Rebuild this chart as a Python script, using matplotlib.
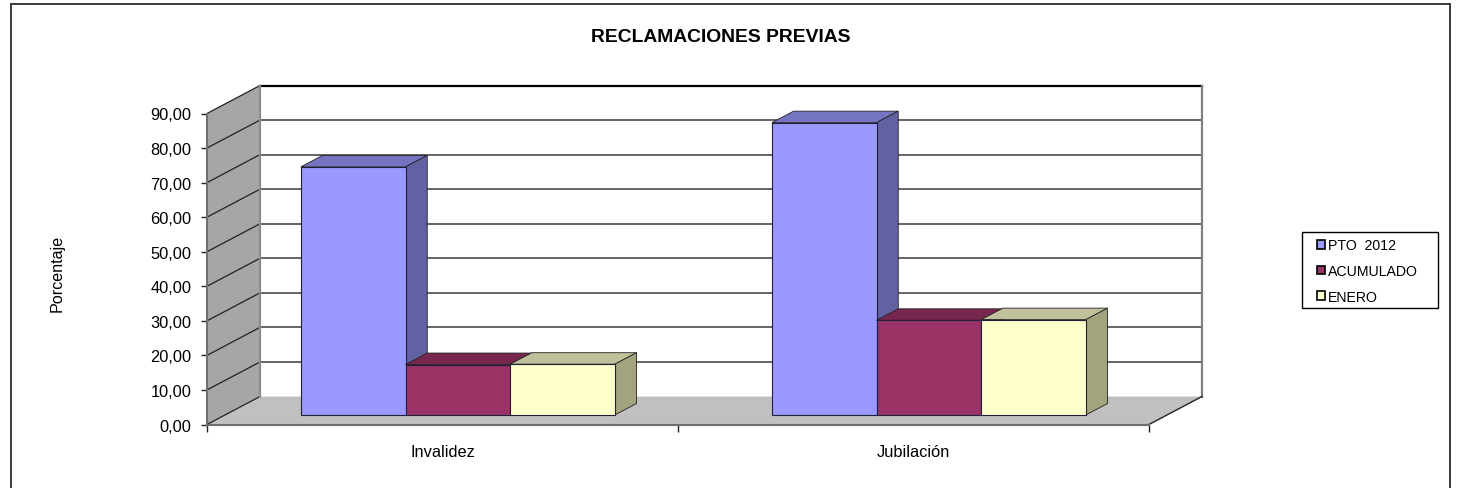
import numpy as np
import matplotlib
matplotlib.use('Agg')
import matplotlib.pyplot as plt
from matplotlib.patches import Rectangle

plt.rcParams['font.family'] = ['Liberation Sans', 'DejaVu Sans']

categorias = ['Invalidez', 'Jubilación']
series = ['PTO  2012', 'ACUMULADO', 'ENERO']
pto_2012 = [71.8, 84.6]
acumulado = [14.6, 27.4]
enero = [14.7, 27.6]
y_ticks = [0, 10, 20, 30, 40, 50, 60, 70, 80, 90]

colores = ['#9999FF', '#993366', '#FFFFCC']
colores_top = ['#7474C2', '#77264D', '#C0C09A']
colores_lado = ['#6262A3', '#612040', '#A3A380']

W, H = 1458, 489
fig = plt.figure(figsize=(W / 100, H / 100), dpi=100)
ax = fig.add_axes([207 / W, 1 - 425.5 / H, 942 / W, 311 / H])
ax.set_xlim(0, 2)
ax.set_ylim(0, 90)

# profundidad del falso 3D, en unidades de datos
dx_fondo = 53 / 471
dy_fondo = 28 / (311 / 90)


def prof(x, y, d):
    return x + d * dx_fondo, y + d * dy_fondo


# pared lateral y suelo
xs, ys = zip(prof(0, 0, 0), prof(0, 0, 1), prof(0, 90, 1), prof(0, 90, 0))
ax.fill(xs, ys, color='#A6A6A6', lw=0, clip_on=False, zorder=1)
xs, ys = zip(prof(0, 0, 0), prof(2, 0, 0), prof(2, 0, 1), prof(0, 0, 1))
ax.fill(xs, ys, color='#C0C0C0', lw=0, clip_on=False, zorder=1)

# rejilla
for v in y_ticks:
    p0, p1, p2 = prof(0, v, 0), prof(0, v, 1), prof(2, v, 1)
    col = '#000000' if v == 90 else '#4A4A4A'
    lw = 1.6 if v == 90 else 1.2
    if v > 0:
        ax.plot([p1[0], p2[0]], [p1[1], p2[1]], color=col, lw=lw, clip_on=False, zorder=2)
    ax.plot([p0[0], p1[0]], [p0[1], p1[1]], color='#222222', lw=0.9, clip_on=False, zorder=2)

# bordes de paredes
p = prof(0, 0, 1), prof(0, 90, 1)
ax.plot([p[0][0], p[1][0]], [p[0][1], p[1][1]], color='#8C8C8C', lw=1.6, clip_on=False, zorder=2)
p = prof(2, 0, 1), prof(2, 90, 1)
ax.plot([p[0][0], p[1][0]], [p[0][1], p[1][1]], color='#808080', lw=1.6, clip_on=False, zorder=2)
p = prof(2, 0, 0), prof(2, 0, 1)
ax.plot([p[0][0], p[1][0]], [p[0][1], p[1][1]], color='#222222', lw=1.0, clip_on=False, zorder=2)

# barras
ancho = 1 / 4.5
inicio = 0.161
d_front, d_back = 0.34, 0.75
valores = [pto_2012, acumulado, enero]
for g in range(len(categorias)):
    for s in range(len(series)):
        v = valores[s][g]
        x0 = g + inicio + s * ancho
        x1 = x0 + ancho
        fx0, base = prof(x0, 0, d_front)
        z = 3 + g * 3 + s
        ax.bar(fx0, v, ancho, bottom=base, align='edge', color=colores[s],
               edgecolor='#1F1F3A', lw=0.8, clip_on=False, zorder=z + 0.5)
        a, b, c, d = prof(x0, v, d_front), prof(x1, v, d_front), prof(x1, v, d_back), prof(x0, v, d_back)
        ax.fill(*zip(a, b, c, d), facecolor=colores_top[s], edgecolor='#222222', lw=0.6, clip_on=False, zorder=z)
        a, b, c, d = prof(x1, 0, d_front), prof(x1, v, d_front), prof(x1, v, d_back), prof(x1, 0, d_back)
        ax.fill(*zip(a, b, c, d), facecolor=colores_lado[s], edgecolor='#222222', lw=0.6, clip_on=False, zorder=z)

# ejes
for lado in ['top', 'right']:
    ax.spines[lado].set_visible(False)
for lado in ['left', 'bottom']:
    ax.spines[lado].set_color('#707070')
    ax.spines[lado].set_linewidth(1.5)
    ax.spines[lado].set_zorder(20)
ax.patch.set_visible(False)

ax.set_yticks(y_ticks)
ax.set_yticklabels([f'{v:.2f}'.replace('.', ',') for v in y_ticks], fontsize=11.8, color='black')
ax.tick_params(axis='y', length=4.5, width=1, color='#222222', pad=6.5)
ax.set_xticks([0, 1, 2])
ax.set_xticklabels([])
ax.tick_params(axis='x', which='major', length=5, width=1, color='#222222')
ax.set_xticks([0.5, 1.5], minor=True)
ax.set_xticklabels(categorias, minor=True, fontsize=11.8)
ax.tick_params(axis='x', which='minor', length=0, pad=14)

fig.text(57 / W, 1 - 273 / H, 'Porcentaje', rotation=90, ha='center', va='center', fontsize=11.6)
fig.text(721 / W, 1 - 37 / H, 'RECLAMACIONES PREVIAS', ha='center', va='center',
         fontsize=13.9, fontweight='bold')

# leyenda: el marco va aparte porque es más ancho que su contenido
fig.add_artist(Rectangle((1302 / W, 1 - 309 / H), 136 / W, 76 / H, transform=fig.transFigure,
                         facecolor='white', edgecolor='black', lw=1.0, zorder=5))
handles = [Rectangle((0, 0), 1, 1, facecolor=c, edgecolor='black', lw=1.2) for c in colores]
leg = fig.legend(handles, series, loc='upper left',
                 bbox_to_anchor=(1317 / W, 1 - 239.5 / H), borderaxespad=0, fontsize=10.2,
                 frameon=False, handlelength=0.55, handleheight=0.55, handletextpad=0.25,
                 labelspacing=0.82, borderpad=0)
leg.set_zorder(6)

# marco exterior, sin borde inferior
for xa, ya, xb, yb in [(11, 489, 11, 5), (11, 5, 1450, 5), (1450, 5, 1450, 489)]:
    fig.add_artist(plt.Line2D([xa / W, xb / W], [1 - ya / H, 1 - yb / H], color='#3A3A3A', lw=1.4))

fig.savefig('out.png', dpi=100)
